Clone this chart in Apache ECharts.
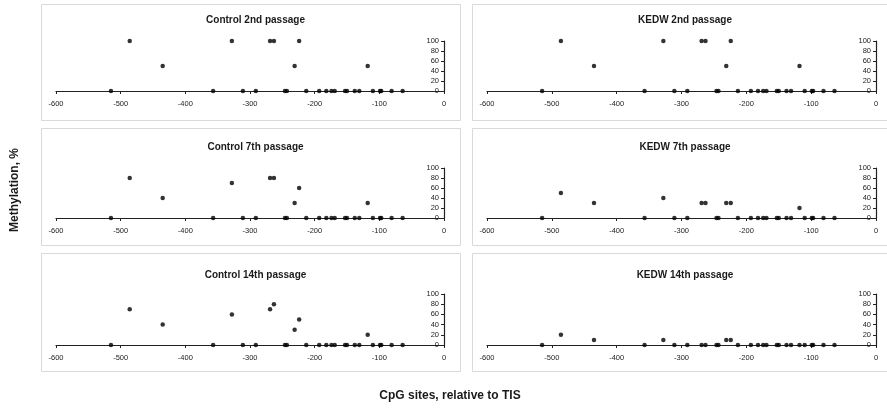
<!DOCTYPE html>
<html>
<head>
<meta charset="utf-8">
<script src="https://cdn.jsdelivr.net/npm/echarts@6/dist/echarts.min.js"></script>
<style>
html,body{margin:0;padding:0;background:#fff;}
#chart{width:887px;height:408px;}
</style>
</head>
<body>
<div id="chart"></div>
<script>
// CpG site positions relative to TIS
var sites = [-515, -486, -435, -357, -328, -311, -291, -269, -263, -246, -243, -231, -224, -213, -193, -182, -174, -169, -153, -150, -138, -131, -118, -110, -99, -97, -81, -64];
var panelTitles = ['Control 2nd passage', 'KEDW 2nd passage', 'Control 7th passage', 'KEDW 7th passage', 'Control 14th passage', 'KEDW 14th passage'];
var control2 = [0,100,50,0,100,0,0,100,100,0,0,50,100,0,0,0,0,0,0,0,0,0,50,0,0,0,0,0];
var kedw2    = [0,100,50,0,100,0,0,100,100,0,0,50,100,0,0,0,0,0,0,0,0,0,50,0,0,0,0,0];
var control7 = [0,80,40,0,70,0,0,80,80,0,0,30,60,0,0,0,0,0,0,0,0,0,30,0,0,0,0,0];
var kedw7    = [0,50,30,0,40,0,0,30,30,0,0,30,30,0,0,0,0,0,0,0,0,0,20,0,0,0,0,0];
var control14= [0,70,40,0,60,0,0,70,80,0,0,30,50,0,0,0,0,0,0,0,0,0,20,0,0,0,0,0];
var kedw14   = [0,20,10,0,10,0,0,0,0,0,0,10,10,0,0,0,0,0,0,0,0,0,0,0,0,0,0,0];
var xTicks = [-600, -500, -400, -300, -200, -100, 0];
var yTicks = [0, 20, 40, 60, 80, 100];
var allValues = [control2, kedw2, control7, kedw7, control14, kedw14];

var chart = echarts.init(document.getElementById('chart'));
var FONT = '"Liberation Sans", Arial, sans-serif';

var colLeft = [56, 487];
var colWidth = [388, 389];
var rowTop = [41, 168, 294];
var rowHeight = [50, 50, 51];
var boxX = [41, 472];
var boxW = [419, 430];
var boxY = [4, 128, 253];
var boxH = [116, 117, 118];
var titleY = [10, 137, 265];

var grids = [], xAxes = [], yAxes = [], series = [], titles = [], graphics = [];
for (var i = 0; i < 6; i++) {
  var c = i % 2, r = Math.floor(i / 2);
  graphics.push({
    type: 'rect', z: -1,
    shape: {x: boxX[c] + 0.5, y: boxY[r] + 0.5, width: boxW[c], height: boxH[r]},
    style: {fill: '#fff', stroke: '#d9d9d9', lineWidth: 1}
  });
  grids.push({left: colLeft[c], top: rowTop[r], width: colWidth[c], height: rowHeight[r], containLabel: false});
  titles.push({
    text: panelTitles[i],
    left: boxX[c] + (c === 0 ? 419 : 416) / 2, top: titleY[r], textAlign: 'center',
    textStyle: {fontFamily: FONT, fontSize: 10, fontWeight: 'bold', color: '#1a1a1a'}
  });
  xAxes.push({
    gridIndex: i, type: 'value', min: xTicks[0], max: xTicks[xTicks.length - 1], interval: 100,
    axisLine: {onZero: false, lineStyle: {color: '#222', width: 1.2}},
    axisTick: {show: true, length: 3, lineStyle: {color: '#222'}},
    axisLabel: {fontFamily: FONT, fontSize: 7.5, color: '#222', margin: 9},
    splitLine: {show: false}
  });
  yAxes.push({
    gridIndex: i, type: 'value', position: 'right', min: yTicks[0], max: yTicks[yTicks.length - 1], interval: 20,
    axisLine: {show: true, lineStyle: {color: '#222', width: 1.2}},
    axisTick: {show: true, inside: true, length: 3, lineStyle: {color: '#222'}},
    axisLabel: {inside: true, fontFamily: FONT, fontSize: 7.5, color: '#222', margin: 5},
    splitLine: {show: false}
  });
  var vals = allValues[i];
  series.push({
    type: 'scatter', xAxisIndex: i, yAxisIndex: i,
    symbol: 'circle', symbolSize: 4.5,
    itemStyle: {color: '#000'},
    data: sites.map(function (s, k) { return [s, vals[k]]; }),
    silent: true
  });
}

graphics.push({
  type: 'text', x: 15, y: 190, rotation: Math.PI / 2,
  style: {text: 'Methylation, %', fontFamily: FONT, fontSize: 12, fontWeight: 'bold', fill: '#1a1a1a', textAlign: 'center', textVerticalAlign: 'middle'}
});
graphics.push({
  type: 'text', x: 450, y: 396,
  style: {text: 'CpG sites, relative to TIS', fontFamily: FONT, fontSize: 12, fontWeight: 'bold', fill: '#1a1a1a', textAlign: 'center', textVerticalAlign: 'middle'}
});

chart.setOption({
  animation: false,
  backgroundColor: '#fff',
  title: titles,
  grid: grids,
  xAxis: xAxes,
  yAxis: yAxes,
  series: series,
  graphic: graphics
});
</script>
</body>
</html>
